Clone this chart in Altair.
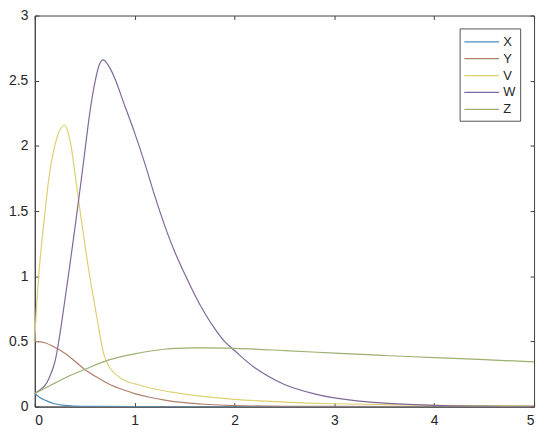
import altair as alt
import pandas as pd

# ---- data ----
series_names = ["X", "Y", "V", "W", "Z"]
series_colors = ["#4a8cb8", "#b27f6c", "#ddd070", "#80689a", "#9cb070"]

X_t = [0, 0.05, 0.1, 0.15, 0.2, 0.3, 0.4, 0.6, 1, 2, 3, 4, 5]
X_v = [0.1, 0.07, 0.05, 0.034, 0.022, 0.009, 0.004, 0.001, 0, 0, 0, 0, 0]

Y_t = [0, 0.1, 0.2, 0.3, 0.4, 0.5, 0.6, 0.75, 0.9, 1.0, 1.15, 1.3, 1.5, 1.7, 2.0, 2.5, 3, 4, 5]
Y_v = [0.5, 0.49, 0.455, 0.41, 0.35, 0.285, 0.235, 0.17, 0.125, 0.1, 0.072, 0.05, 0.03,
       0.018, 0.008, 0.002, 0.001, 0, 0]

V_t = [0, 0.02, 0.05, 0.1, 0.15, 0.2, 0.25, 0.3, 0.35, 0.4, 0.45, 0.5, 0.55, 0.6, 0.65,
       0.7, 0.75, 0.8, 0.9, 1.0, 1.2, 1.5, 2, 2.5, 3, 4, 5]
V_v = [0.5, 0.8, 1.1, 1.48, 1.8, 2.0, 2.12, 2.16, 2.05, 1.8, 1.52, 1.25, 1.0, 0.78,
       0.56, 0.38, 0.3, 0.255, 0.2, 0.175, 0.135, 0.095, 0.055, 0.035, 0.022, 0.01, 0.005]

W_t = [0, 0.1, 0.15, 0.2, 0.25, 0.3, 0.35, 0.4, 0.45, 0.5, 0.55, 0.6, 0.65, 0.68, 0.7,
       0.75, 0.8, 0.9, 1.0, 1.1, 1.2, 1.3, 1.4, 1.5, 1.6, 1.7, 1.8, 1.9, 2.0, 2.2, 2.5,
       2.8, 3.0, 3.5, 4.0, 4.5, 5]
W_v = [0.1, 0.16, 0.23, 0.34, 0.55, 0.81, 1.08, 1.36, 1.65, 1.95, 2.25, 2.48, 2.63, 2.66,
       2.655, 2.6, 2.52, 2.31, 2.1, 1.87, 1.62, 1.39, 1.19, 1.02, 0.86, 0.72, 0.6, 0.5,
       0.43, 0.3, 0.17, 0.098, 0.067, 0.026, 0.01, 0.004, 0.0015]

Z_t = [0, 0.1, 0.2, 0.3, 0.5, 0.75, 1.0, 1.3, 1.6, 2.0, 2.5, 3.0, 3.5, 4, 4.5, 5]
Z_v = [0.1, 0.14, 0.18, 0.22, 0.285, 0.36, 0.405, 0.44, 0.45, 0.447, 0.43, 0.41, 0.392,
       0.376, 0.36, 0.343]

x_ticks = [0, 1, 2, 3, 4, 5]
y_ticks = [0, 0.5, 1, 1.5, 2, 2.5, 3]

frames = []
for name, t, v in [("X", X_t, X_v), ("Y", Y_t, Y_v), ("V", V_t, V_v),
                   ("W", W_t, W_v), ("Z", Z_t, Z_v)]:
    frames.append(pd.DataFrame({"t": t, "value": v, "series": name}))
df = pd.concat(frames, ignore_index=True)

W_PLOT = 503
H_PLOT = 394
AX = "#404040"
FONT = "Liberation Sans"

chart = (
    alt.Chart(df)
    .mark_line(strokeWidth=1.2, interpolate="catmull-rom", clip=True)
    .encode(
        x=alt.X("t:Q", scale=alt.Scale(domain=[0, 5], nice=False),
                axis=alt.Axis(values=x_ticks, title=None, labelPadding=7, format="~g",
                              gridDash=[4, H_PLOT - 8, 4, 50])),
        y=alt.Y("value:Q", scale=alt.Scale(domain=[0, 3], nice=False),
                axis=alt.Axis(values=y_ticks, title=None, labelPadding=7, format="~g",
                              gridDash=[4, W_PLOT - 8, 4, 50])),
        color=alt.Color("series:N",
                        scale=alt.Scale(domain=series_names, range=series_colors),
                        legend=alt.Legend(title=None, orient="none",
                                          legendX=428, legendY=13)),
        detail="series:N",
        order="t:Q",
    )
    .properties(width=W_PLOT, height=H_PLOT,
                autosize=alt.AutoSizeParams(type="none"),
                padding={"left": 27, "top": 6, "right": 8, "bottom": 22})
    .configure_view(stroke=AX, strokeWidth=1)
    .configure_axis(labelFont=FONT, labelFontSize=14, labelColor="#262626",
                    domainColor=AX, ticks=False, grid=True, gridColor=AX,
                    gridOpacity=1, gridWidth=1)
    .configure_legend(fillColor="white", strokeColor="#555555", padding=4,
                      symbolType="M-1,0H3", symbolSize=306, symbolStrokeWidth=1.2,
                      labelOffset=21, labelFontSize=13, labelFont=FONT,
                      labelColor="#262626", rowPadding=0, cornerRadius=0)
)

chart.save("out.html", embed_options={"renderer": "svg", "actions": False})
